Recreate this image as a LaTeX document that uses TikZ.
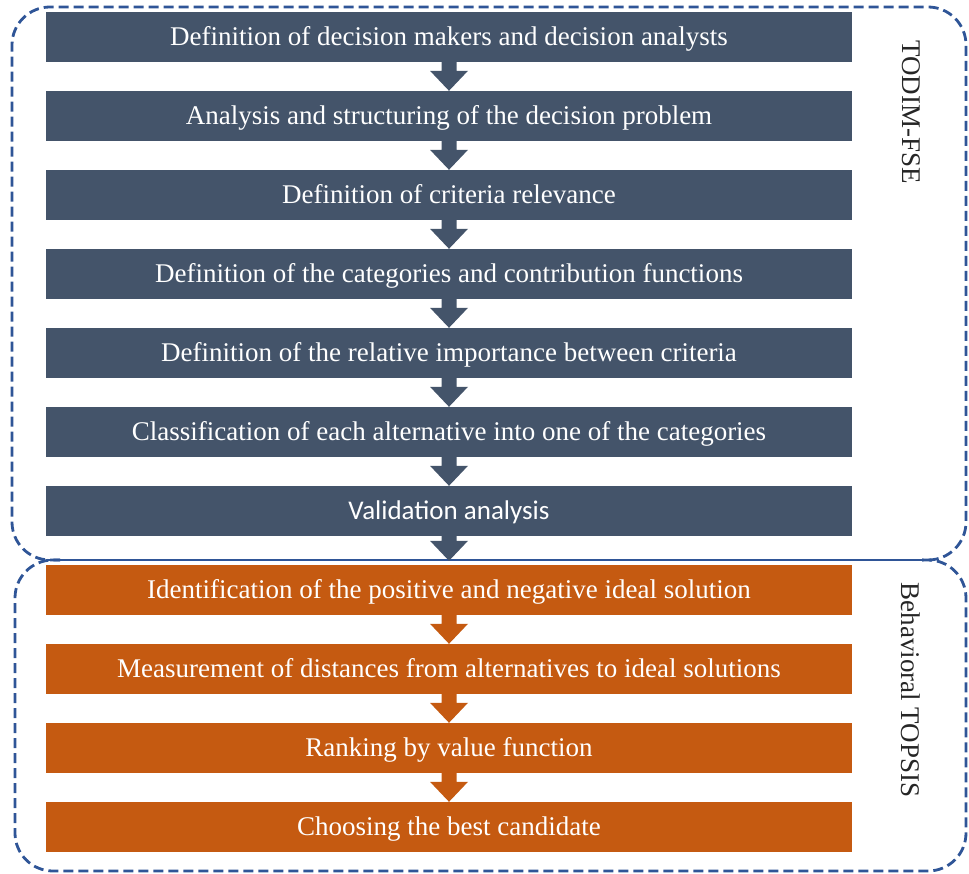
\documentclass[tikz,border=0pt]{standalone}
\usepackage{fontspec}
\setmainfont{Liberation Serif}
\newfontfamily\calibrifont{Carlito}
\usetikzlibrary{calc}
\definecolor{slate}{HTML}{44546A}
\definecolor{rust}{HTML}{C55A11}
\definecolor{framebl}{HTML}{2F5597}
\definecolor{labelgray}{HTML}{262626}

% block arrow: colour, source node, target node, gap left above the target
\newcommand\blockarrow[4]{%
  \coordinate (tip) at ($(#3.north)+(0,-#4)$);
  \fill[#1] ($(#2.south)+(-7.5,0)$) -- ($(#2.south)+(7.5,0)$)
    -- ($(tip)+(7.5,-20)$) -- ($(tip)+(19,-20)$) -- (tip)
    -- ($(tip)+(-19,-20)$) -- ($(tip)+(-7.5,-20)$) -- cycle;
}

\begin{document}
\begin{tikzpicture}[x=1pt,y=-1pt,
  stepbox/.style={minimum width=806pt, minimum height=50pt, inner sep=0pt,
    text=white, font=\fontsize{27}{31}\selectfont,
    text height=20pt, text depth=3pt},
  darkbox/.style={stepbox, fill=slate},
  orangebox/.style={stepbox, fill=rust},
  frame/.style={draw=framebl, line width=2.8pt, dash pattern=on 10pt off 5pt,
    rounded corners=38pt},
  sidelabel/.style={rotate=-90, text=labelgray, font=\fontsize{27}{31}\selectfont}
]
\useasboundingbox (0,0) rectangle (969,874);

% dashed group frames
\draw[frame] (60,560) -- (12,560) -- (12,7) -- (966,7) -- (966,560) -- (922,560);
\draw[frame] (922,560) -- (966,560) -- (966,871) -- (15,871) -- (15,560) -- (60,560);
\draw[framebl, line width=2pt] (48,560) -- (935,560);

% TODIM-FSE steps
\node[darkbox] (d1) at (449,37) {Definition of decision makers and decision analysts};
\node[darkbox] (d2) at (449,116) {Analysis and structuring of the decision problem};
\node[darkbox] (d3) at (449,195) {Definition of criteria relevance};
\node[darkbox] (d4) at (449,274) {Definition of the categories and contribution functions};
\node[darkbox] (d5) at (449,353) {Definition of the relative importance between criteria};
\node[darkbox] (d6) at (449,432) {Classification of each alternative into one of the categories};
\node[darkbox] (d7) at (449,511) {\calibrifont Validation analysis};

% Behavioral TOPSIS steps
\node[orangebox] (o1) at (449,590) {Identification of the positive and negative ideal solution};
\node[orangebox] (o2) at (449,669) {Measurement of distances from alternatives to ideal solutions};
\node[orangebox] (o3) at (449,748) {Ranking by value function};
\node[orangebox] (o4) at (449,827) {Choosing the best candidate};

% arrows between steps
\blockarrow{slate}{d1}{d2}{0}
\blockarrow{slate}{d2}{d3}{0}
\blockarrow{slate}{d3}{d4}{0}
\blockarrow{slate}{d4}{d5}{0}
\blockarrow{slate}{d5}{d6}{0}
\blockarrow{slate}{d6}{d7}{0}
\blockarrow{slate}{d7}{o1}{4}
\blockarrow{rust}{o1}{o2}{0}
\blockarrow{rust}{o2}{o3}{0}
\blockarrow{rust}{o3}{o4}{0}

% group labels
\node[sidelabel] (lt) at (911,112) {TODIM-FSE};
\node[sidelabel] (lb) at (911,690) {Behavioral TOPSIS};
\end{tikzpicture}
\end{document}
